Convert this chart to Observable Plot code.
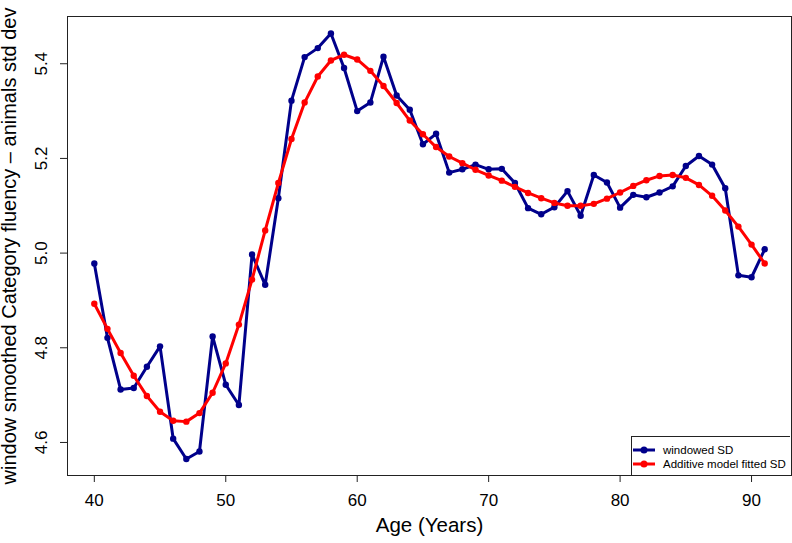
<!DOCTYPE html>
<html>
<head>
<meta charset="utf-8">
<script src="https://cdn.jsdelivr.net/npm/d3@7"></script>
<script src="https://cdn.jsdelivr.net/npm/@observablehq/plot@0.6"></script>
<style>
  html, body { margin: 0; padding: 0; background: #fff; }
  #wrap { position: relative; width: 792px; height: 543px; overflow: hidden; font-family: "Liberation Sans", Arial, Helvetica, sans-serif; }
  #legend { position: absolute; left: 631px; top: 436px; width: 159px; height: 39px; border: 1px solid #222; border-right: none; border-bottom: none; box-sizing: border-box; background: #fff; font-size: 11.5px; color: #000; }
  .item { position: absolute; left: 0; height: 14px; display: flex; align-items: center; }
  .item svg { display: block; }
  .item span { margin-left: 7px; line-height: 14px; white-space: nowrap; }
</style>
</head>
<body>
<div id="wrap"></div>
<script>
const ages = [40,41,42,43,44,45,46,47,48,49,50,51,52,53,54,55,56,57,58,59,60,61,62,63,64,65,66,67,68,69,70,71,72,73,74,75,76,77,78,79,80,81,82,83,84,85,86,87,88,89,90,91];
const windowedSD = [4.978,4.821,4.712,4.715,4.760,4.803,4.608,4.565,4.581,4.824,
  4.722,4.679,4.997,4.933,5.116,5.322,5.414,5.433,5.464,5.391,
  5.300,5.318,5.415,5.333,5.303,5.230,5.252,5.170,5.177,5.187,
  5.177,5.178,5.148,5.095,5.082,5.097,5.131,5.079,5.165,5.149,
  5.096,5.123,5.118,5.128,5.141,5.184,5.205,5.187,5.137,4.953,
  4.949,5.008];
const fittedSD = [4.893,4.840,4.789,4.741,4.698,4.665,4.646,4.644,4.662,4.705,
  4.767,4.849,4.944,5.048,5.148,5.241,5.318,5.373,5.407,5.419,
  5.409,5.385,5.353,5.317,5.280,5.251,5.224,5.204,5.190,5.176,
  5.164,5.153,5.140,5.127,5.116,5.106,5.100,5.100,5.104,5.115,
  5.128,5.142,5.154,5.163,5.165,5.159,5.144,5.121,5.090,5.056,
  5.018,4.978];
const xTicks = [40,50,60,70,80,90];
const yTicks = [4.6,4.8,5.0,5.2,5.4];
const seriesNames = ["windowed SD", "Additive model fitted SD"];
const seriesColors = ["#00008B", "#FF0000"];
const xTitle = "Age (Years)";
const yTitle = "window smoothed Category fluency \u2013 animals std dev";

const blue = ages.map((a, i) => ({age: a, v: windowedSD[i]}));
const red = ages.map((a, i) => ({age: a, v: fittedSD[i]}));

const chart = Plot.plot({
  width: 792,
  height: 543,
  marginLeft: 67,
  marginRight: 1,
  marginTop: 16,
  marginBottom: 68,
  style: {fontFamily: "Liberation Sans, Arial, sans-serif", background: "#fff"},
  x: {domain: [37.96, 93.04]},
  y: {domain: [4.5302, 5.4998]},
  marks: [
    Plot.frame({stroke: "#222", strokeWidth: 1}),
    Plot.axisX(xTicks, {tickSize: 7, tickPadding: 11, fontSize: 17, label: null, stroke: "#222", fill: "#000"}),
    Plot.axisY(yTicks, {tickSize: 7, text: null, label: null, stroke: "#222"}),
    Plot.text(yTicks, {y: d => d, text: d => d.toFixed(1), frameAnchor: "left", textAnchor: "middle", rotate: -90, dx: -26, fontSize: 17, fill: "#000"}),
    Plot.text([xTitle], {text: d => d, frameAnchor: "bottom", dy: 56, fontSize: 20.5, fill: "#000"}),
    Plot.text([yTitle], {text: d => d, frameAnchor: "left", textAnchor: "middle", rotate: -90, dx: -58, fontSize: 20, fill: "#000"}),
    Plot.line(blue, {x: "age", y: "v", stroke: seriesColors[0], strokeWidth: 3}),
    Plot.dot(blue, {x: "age", y: "v", fill: seriesColors[0], r: 3.2}),
    Plot.line(red, {x: "age", y: "v", stroke: seriesColors[1], strokeWidth: 3}),
    Plot.dot(red, {x: "age", y: "v", fill: seriesColors[1], r: 3.2})
  ]
});

const wrap = document.getElementById("wrap");
wrap.appendChild(chart);

const legend = document.createElement("div");
legend.id = "legend";
seriesNames.forEach((name, i) => {
  const item = document.createElement("div");
  item.className = "item";
  item.style.top = (6 + i * 13.5) + "px";
  item.innerHTML = `<svg width="24" height="14"><line x1="1" x2="23" y1="7" y2="7" stroke="${seriesColors[i]}" stroke-width="3"/><circle cx="12" cy="7" r="3.5" fill="${seriesColors[i]}"/></svg><span>${name}</span>`;
  legend.appendChild(item);
});
wrap.appendChild(legend);
</script>
</body>
</html>
